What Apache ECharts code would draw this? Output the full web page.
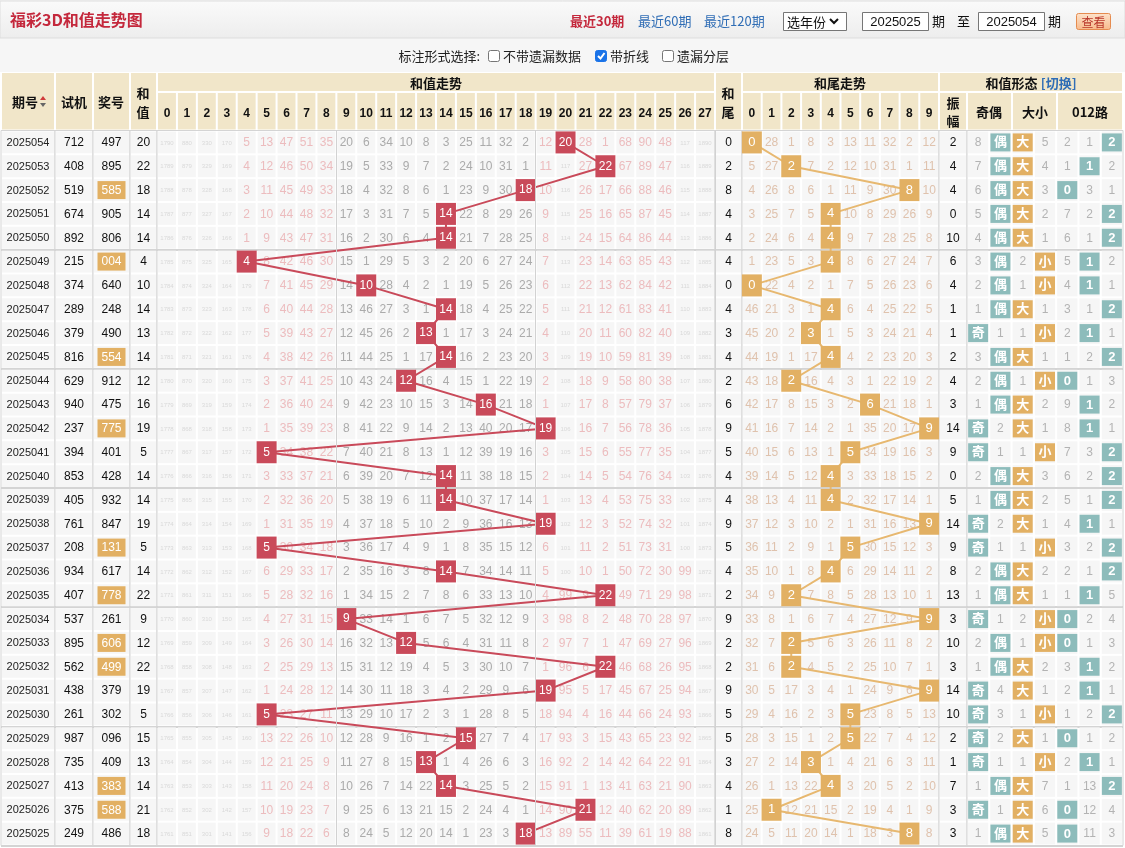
<!DOCTYPE html>
<html>
<head>
<meta charset="utf-8">
<script src="https://cdn.jsdelivr.net/npm/echarts@6/dist/echarts.min.js"></script>
<style>
  html, body { margin: 0; padding: 0; background: #fff; }
  #chart { width: 1125px; height: 848px; }
</style>
</head>
<body>
<div id="chart"></div>
<script>
// ---- data (top row = newest issue) ----
const issues = ['2025054','2025053','2025052','2025051','2025050','2025049','2025048','2025047','2025046','2025045',
  '2025044','2025043','2025042','2025041','2025040','2025039','2025038','2025037','2025036','2025035',
  '2025034','2025033','2025032','2025031','2025030','2025029','2025028','2025027','2025026','2025025'];
const trialNums = ['712','408','519','674','892','215','374','289','379','816','629','940','237','394','853',
  '405','761','208','934','407','537','895','562','438','261','987','735','413','375','249'];
const drawNums = ['497','895','585','905','806','004','640','248','490','554','912','475','775','401','428',
  '932','847','131','617','778','261','606','499','379','302','096','409','383','588','486'];
const pairedDraws = ['585','004','554','775','131','778','606','499','383','588'];
const sumValues = [20,22,18,14,14,4,10,14,13,14,12,16,19,5,14,14,19,5,14,22,9,12,22,19,5,15,13,14,21,18];
const tailValues = [0,2,8,4,4,4,0,4,3,4,2,6,9,5,4,4,9,5,4,2,9,2,2,9,5,5,3,4,1,8];
const spanValues = [2,4,4,0,10,6,4,1,1,2,4,3,14,9,0,5,14,9,8,13,3,10,3,14,10,2,1,7,3,3];

const sumCols = ['0','1','2','3','4','5','6','7','8','9','10','11','12','13','14','15','16','17','18','19','20','21','22','23','24','25','26','27'];
const tailCols = ['0','1','2','3','4','5','6','7','8','9'];
const shapeCols = ['奇','偶','大','小','0','1','2'];

// omission per sum column, '*' = the drawn sum
const sumMissRows = [
  '1790 880 330 170 5 13 47 51 35 20 6 34 10 8 3 25 11 32 2 12 * 28 1 68 90 48 117 1890',
  '1789 879 329 169 4 12 46 50 34 19 5 33 9 7 2 24 10 31 1 11 117 27 * 67 89 47 116 1889',
  '1788 878 328 168 3 11 45 49 33 18 4 32 8 6 1 23 9 30 * 10 116 26 17 66 88 46 115 1888',
  '1787 877 327 167 2 10 44 48 32 17 3 31 7 5 * 22 8 29 26 9 115 25 16 65 87 45 114 1887',
  '1786 876 326 166 1 9 43 47 31 16 2 30 6 4 * 21 7 28 25 8 114 24 15 64 86 44 113 1886',
  '1785 875 325 165 * 8 42 46 30 15 1 29 5 3 2 20 6 27 24 7 113 23 14 63 85 43 112 1885',
  '1784 874 324 164 179 7 41 45 29 14 * 28 4 2 1 19 5 26 23 6 112 22 13 62 84 42 111 1884',
  '1783 873 323 163 178 6 40 44 28 13 46 27 3 1 * 18 4 25 22 5 111 21 12 61 83 41 110 1883',
  '1782 872 322 162 177 5 39 43 27 12 45 26 2 * 1 17 3 24 21 4 110 20 11 60 82 40 109 1882',
  '1781 871 321 161 176 4 38 42 26 11 44 25 1 17 * 16 2 23 20 3 109 19 10 59 81 39 108 1881',
  '1780 870 320 160 175 3 37 41 25 10 43 24 * 16 4 15 1 22 19 2 108 18 9 58 80 38 107 1880',
  '1779 869 319 159 174 2 36 40 24 9 42 23 10 15 3 14 * 21 18 1 107 17 8 57 79 37 106 1879',
  '1778 868 318 158 173 1 35 39 23 8 41 22 9 14 2 13 40 20 17 * 106 16 7 56 78 36 105 1878',
  '1777 867 317 157 172 * 34 38 22 7 40 21 8 13 1 12 39 19 16 3 105 15 6 55 77 35 104 1877',
  '1776 866 316 156 171 3 33 37 21 6 39 20 7 12 * 11 38 18 15 2 104 14 5 54 76 34 103 1876',
  '1775 865 315 155 170 2 32 36 20 5 38 19 6 11 * 10 37 17 14 1 103 13 4 53 75 33 102 1875',
  '1774 864 314 154 169 1 31 35 19 4 37 18 5 10 2 9 36 16 13 * 102 12 3 52 74 32 101 1874',
  '1773 863 313 153 168 * 30 34 18 3 36 17 4 9 1 8 35 15 12 6 101 11 2 51 73 31 100 1873',
  '1772 862 312 152 167 6 29 33 17 2 35 16 3 8 * 7 34 14 11 5 100 10 1 50 72 30 99 1872',
  '1771 861 311 151 166 5 28 32 16 1 34 15 2 7 8 6 33 13 10 4 99 9 * 49 71 29 98 1871',
  '1770 860 310 150 165 4 27 31 15 * 33 14 1 6 7 5 32 12 9 3 98 8 2 48 70 28 97 1870',
  '1769 859 309 149 164 3 26 30 14 16 32 13 * 5 6 4 31 11 8 2 97 7 1 47 69 27 96 1869',
  '1768 858 308 148 163 2 25 29 13 15 31 12 19 4 5 3 30 10 7 1 96 6 * 46 68 26 95 1868',
  '1767 857 307 147 162 1 24 28 12 14 30 11 18 3 4 2 29 9 6 * 95 5 17 45 67 25 94 1867',
  '1766 856 306 146 161 * 23 27 11 13 29 10 17 2 3 1 28 8 5 18 94 4 16 44 66 24 93 1866',
  '1765 855 305 145 160 13 22 26 10 12 28 9 16 1 2 * 27 7 4 17 93 3 15 43 65 23 92 1865',
  '1764 854 304 144 159 12 21 25 9 11 27 8 15 * 1 4 26 6 3 16 92 2 14 42 64 22 91 1864',
  '1763 853 303 143 158 11 20 24 8 10 26 7 14 22 * 3 25 5 2 15 91 1 13 41 63 21 90 1863',
  '1762 852 302 142 157 10 19 23 7 9 25 6 13 21 15 2 24 4 1 14 90 * 12 40 62 20 89 1862',
  '1761 851 301 141 156 9 18 22 6 8 24 5 12 20 14 1 23 3 * 13 89 55 11 39 61 19 88 1861'
];

// omission per tail column
const tailMissRows = [
  '* 28 1 8 3 13 11 32 2 12', '5 27 * 7 2 12 10 31 1 11', '4 26 8 6 1 11 9 30 * 10',
  '3 25 7 5 * 10 8 29 26 9', '2 24 6 4 * 9 7 28 25 8', '1 23 5 3 * 8 6 27 24 7',
  '* 22 4 2 1 7 5 26 23 6', '46 21 3 1 * 6 4 25 22 5', '45 20 2 * 1 5 3 24 21 4',
  '44 19 1 17 * 4 2 23 20 3', '43 18 * 16 4 3 1 22 19 2', '42 17 8 15 3 2 * 21 18 1',
  '41 16 7 14 2 1 35 20 17 *', '40 15 6 13 1 * 34 19 16 3', '39 14 5 12 * 3 33 18 15 2',
  '38 13 4 11 * 2 32 17 14 1', '37 12 3 10 2 1 31 16 13 *', '36 11 2 9 1 * 30 15 12 3',
  '35 10 1 8 * 6 29 14 11 2', '34 9 * 7 8 5 28 13 10 1', '33 8 1 6 7 4 27 12 9 *',
  '32 7 * 5 6 3 26 11 8 2', '31 6 * 4 5 2 25 10 7 1', '30 5 17 3 4 1 24 9 6 *',
  '29 4 16 2 3 * 23 8 5 13', '28 3 15 1 2 * 22 7 4 12', '27 2 14 * 1 4 21 6 3 11',
  '26 1 13 22 * 3 20 5 2 10', '25 * 12 21 15 2 19 4 1 9', '24 5 11 20 14 1 18 3 * 8'
];

// 奇 偶 | 大 小 | 0 1 2 ; badge = 奇/偶/大/小 or [n]
const shapeRows = [
  '8 偶 大 5 2 1 [2]', '7 偶 大 4 1 [1] 2', '6 偶 大 3 [0] 3 1', '5 偶 大 2 7 2 [2]', '4 偶 大 1 6 1 [2]',
  '3 偶 2 小 5 [1] 2', '2 偶 1 小 4 [1] 1', '1 偶 大 1 3 1 [2]', '奇 1 1 小 2 [1] 1', '3 偶 大 1 1 2 [2]',
  '2 偶 1 小 [0] 1 3', '1 偶 大 2 9 [1] 2', '奇 2 大 1 8 [1] 1', '奇 1 1 小 7 3 [2]', '2 偶 大 3 6 2 [2]',
  '1 偶 大 2 5 1 [2]', '奇 2 大 1 4 [1] 1', '奇 1 1 小 3 2 [2]', '2 偶 大 2 2 1 [2]', '1 偶 大 1 1 [1] 5',
  '奇 1 2 小 [0] 2 4', '2 偶 1 小 [0] 1 3', '1 偶 大 2 3 [1] 2', '奇 4 大 1 2 [1] 1', '奇 3 1 小 1 2 [2]',
  '奇 2 大 1 [0] 1 2', '奇 1 1 小 2 [1] 1', '1 偶 大 7 1 13 [2]', '奇 1 大 6 [0] 12 4', '1 偶 大 5 [0] 11 3'
];

// ---- styling ----
const FONT = '"Liberation Sans", "Noto Sans CJK SC", sans-serif';
const CJK = '"Noto Sans CJK SC", sans-serif';
const BEIGE = '#f1e6c9';
const CELL = '#f6f6f6';
const RED = '#c94a5a';
const ORANGE = '#e2b063';
const TEAL = '#8dbcbb';

const TOP = 130.5, BODY_H = 715;

const grids = [
  { left: 1, width: 54, cols: ['期号'] },
  { left: 55, width: 38, cols: ['试机'] },
  { left: 93, width: 37, cols: ['奖号'] },
  { left: 130, width: 27, cols: ['和值'] },
  { left: 157, width: 558, cols: sumCols },
  { left: 715, width: 27, cols: ['和尾'] },
  { left: 742, width: 197, cols: tailCols },
  { left: 939, width: 28, cols: ['振幅'] },
  { left: 967, width: 156, cols: shapeCols }
];

// ---- cells ----
const cellSets = grids.map(() => []);
issues.forEach((v, i) => cellSets[0].push([0, i, v, 'issue']));
trialNums.forEach((v, i) => cellSets[1].push([0, i, v, 'plain']));
drawNums.forEach((v, i) => cellSets[2].push([0, i, v, pairedDraws.includes(v) ? 'pair' : 'plain']));
sumValues.forEach((v, i) => cellSets[3].push([0, i, String(v), 'plain']));
sumMissRows.forEach((row, i) => row.split(' ').forEach((t, c) => {
  if (t === '*') { cellSets[4].push([c, i, '', 'none']); return; }
  const kind = t.length > 2 ? 'tiny' : (c >= 9 && c <= 18 ? 'gray' : 'pink');
  cellSets[4].push([c, i, t, kind]);
}));
tailValues.forEach((v, i) => cellSets[5].push([0, i, String(v), 'plain']));
tailMissRows.forEach((row, i) => row.split(' ').forEach((t, c) => {
  cellSets[6].push([c, i, t === '*' ? '' : t, 'tan']);
}));
spanValues.forEach((v, i) => cellSets[7].push([0, i, String(v), 'plain']));
shapeRows.forEach((row, i) => row.split(' ').forEach((t, c) => {
  if (t === '奇' || t === '偶') cellSets[8].push([c, i, t, 'teal']);
  else if (t === '大' || t === '小') cellSets[8].push([c, i, t, 'orange']);
  else if (t[0] === '[') cellSets[8].push([c, i, t.slice(1, -1), 'teal']);
  else cellSets[8].push([c, i, t, 'muted']);
}));

const textColor = { issue: '#222', plain: '#111', pink: '#ecbcbe', gray: '#ababab', tiny: '#d9d9d9', tan: '#dfc2ad', muted: '#b3b3b3' };

function cellSeries(gi) {
  const cells = cellSets[gi];
  return {
    type: 'custom', xAxisIndex: gi, yAxisIndex: gi, z: 1, silent: true,
    data: cells.map(c => [c[0], c[1]]),
    renderItem(params, api) {
      const cell = cells[params.dataIndex];
      const p = api.coord([api.value(0), api.value(1)]);
      const s = api.size([1, 1]);
      const kids = [{ type: 'rect', shape: { x: p[0] - s[0] / 2 + 1, y: p[1] - s[1] / 2 + 1, width: s[0] - 2, height: s[1] - 2 }, style: { fill: CELL } }];
      const kind = cell[3];
      if (kind === 'none') return { type: 'group', children: kids };
      let fill = textColor[kind] || '#111';
      let font = '12px ' + FONT;
      if (kind === 'tiny') font = '6px ' + FONT;
      if (kind === 'issue') font = '11px ' + FONT;
      if (kind === 'pair') {
        kids.push({ type: 'rect', shape: { x: p[0] - 14, y: p[1] - 9, width: 28, height: 18 }, style: { fill: ORANGE } });
        fill = '#fff';
      }
      if (kind === 'teal' || kind === 'orange') {
        kids.push({ type: 'rect', shape: { x: p[0] - 10, y: p[1] - 9, width: 20, height: 18 }, style: { fill: kind === 'teal' ? TEAL : ORANGE } });
        fill = '#fff';
        font = 'bold 13px ' + FONT;
      }
      kids.push({ type: 'text', style: { x: p[0], y: p[1] + 0.5, text: cell[2], fill, font, align: 'center', verticalAlign: 'middle' } });
      return { type: 'group', children: kids };
    }
  };
}

// ---- axes ----
const xAxes = grids.map((g, gi) => ({
  gridIndex: gi, type: 'category', data: g.cols, position: 'top', z: 10,
  axisLine: { show: false }, axisTick: { show: false },
  axisLabel: {
    show: gi === 4 || gi === 6, interval: 0, margin: 11,
    color: '#111', fontWeight: 'bold', fontSize: 12, fontFamily: FONT
  },
  splitLine: {
    show: gi === 4, interval: (i) => i === 9 || i === 19,
    lineStyle: { color: '#d2d2d2', width: 1 }
  }
}));
const yAxes = grids.map((g, gi) => ({
  gridIndex: gi, type: 'category', data: issues, inverse: true,
  axisLine: { show: false }, axisTick: { show: false }, axisLabel: { show: false },
  splitLine: { show: true, interval: (i) => i > 0 && i % 5 === 0, lineStyle: { color: '#d4d4d4', width: 2 } }
}));

// ---- header / top bar graphics ----
const graphics = [];
function hcell(x0, x1, y0, y1) {
  graphics.push({ type: 'rect', z: -5, shape: { x: x0 + 1, y: y0 + 1, width: x1 - x0 - 2, height: y1 - y0 - 2 }, style: { fill: BEIGE } });
}
function htext(x, y, text, extra) {
  graphics.push({ type: 'text', z: 5, style: Object.assign({ x, y, text, fill: '#111', font: 'bold 13px ' + CJK, align: 'center', verticalAlign: 'middle' }, extra || {}) });
}
const HA = 72, HB = 92, HC = 130.5;
// spanning cells
[[1, 55], [55, 93], [93, 130], [130, 157], [715, 742]].forEach(([a, b]) => hcell(a, b, HA, HC));
hcell(157, 715, HA, HB); hcell(742, 939, HA, HB); hcell(939, 1123, HA, HB);
sumCols.forEach((c, i) => hcell(157 + i * 558 / 28, 157 + (i + 1) * 558 / 28, HB, HC));
tailCols.forEach((c, i) => hcell(742 + i * 19.7, 742 + (i + 1) * 19.7, HB, HC));
[[939, 967], [967, 1012], [1012, 1057], [1057, 1123]].forEach(([a, b]) => hcell(a, b, HB, HC));

htext(25, 102, '期号');
graphics.push({ type: 'polygon', z: 5, shape: { points: [[40, 100], [46, 100], [43, 96]] }, style: { fill: '#d03b3b' } });
graphics.push({ type: 'polygon', z: 5, shape: { points: [[40, 103], [46, 103], [43, 107]] }, style: { fill: '#666' } });
htext(74, 102, '试机');
htext(111, 102, '奖号');
htext(143, 93, '和'); htext(143, 112, '值');
htext(728, 93, '和'); htext(728, 112, '尾');
htext(436, 83, '和值走势');
htext(840, 83, '和尾走势');
graphics.push({ type: 'text', z: 5, style: { x: 1031, y: 83, text: '{a|和值形态} {b|[切换]}', align: 'center', verticalAlign: 'middle',
  rich: { a: { font: 'bold 13px ' + CJK, fill: '#111' }, b: { font: 'bold 13px ' + CJK, fill: '#2f6db5' } } } });
htext(953, 103, '振'); htext(953, 121, '幅');
htext(989, 112, '奇偶');
htext(1035, 112, '大小');
htext(1090, 112, '012路');

// title bar
graphics.push({ type: 'rect', z: -10, shape: { x: 0, y: 0, width: 1125, height: 72 }, style: { fill: '#f6f6f6' } });
graphics.push({ type: 'rect', z: -9, shape: { x: 0, y: 1, width: 1125, height: 37 },
  style: { fill: { type: 'linear', x: 0, y: 0, x2: 0, y2: 1, colorStops: [{ offset: 0, color: '#fafafa' }, { offset: 1, color: '#ededed' }] }, stroke: '#dddddd', lineWidth: 1 } });
graphics.push({ type: 'text', z: 5, style: { x: 10, y: 20, text: '福彩3D和值走势图', fill: '#c4283c', font: 'bold 16px ' + CJK, verticalAlign: 'middle' } });
const topFont = '13px ' + CJK;
graphics.push({ type: 'text', z: 5, style: { x: 570, y: 21, text: '最近30期', fill: '#c4283c', font: 'bold 13px ' + CJK, verticalAlign: 'middle' } });
graphics.push({ type: 'text', z: 5, style: { x: 638, y: 21, text: '最近60期', fill: '#2f6db5', font: topFont, verticalAlign: 'middle' } });
graphics.push({ type: 'text', z: 5, style: { x: 704, y: 21, text: '最近120期', fill: '#2f6db5', font: topFont, verticalAlign: 'middle' } });
// select
graphics.push({ type: 'rect', z: 5, shape: { x: 783.5, y: 12.5, width: 63, height: 18 }, style: { fill: '#fff', stroke: '#767676', lineWidth: 1 } });
graphics.push({ type: 'text', z: 6, style: { x: 787, y: 22, text: '选年份', fill: '#111', font: topFont, verticalAlign: 'middle' } });
graphics.push({ type: 'polyline', z: 6, shape: { points: [[830, 19], [834, 23], [838, 19]] }, style: { stroke: '#111', lineWidth: 2, fill: null } });
// inputs
[[862.5, '2025025'], [978.5, '2025054']].forEach(([x, t]) => {
  graphics.push({ type: 'rect', z: 5, shape: { x, y: 12.5, width: 66, height: 18 }, style: { fill: '#fff', stroke: '#767676', lineWidth: 1 } });
  graphics.push({ type: 'text', z: 6, style: { x: x + 33, y: 22, text: t, fill: '#111', font: '13px ' + FONT, align: 'center', verticalAlign: 'middle' } });
});
graphics.push({ type: 'text', z: 5, style: { x: 932, y: 21, text: '期', fill: '#111', font: topFont, verticalAlign: 'middle' } });
graphics.push({ type: 'text', z: 5, style: { x: 957, y: 21, text: '至', fill: '#111', font: topFont, verticalAlign: 'middle' } });
graphics.push({ type: 'text', z: 5, style: { x: 1048, y: 21, text: '期', fill: '#111', font: topFont, verticalAlign: 'middle' } });
// button
graphics.push({ type: 'rect', z: 5, shape: { x: 1076.5, y: 13.5, width: 34, height: 16, r: 2 },
  style: { fill: { type: 'linear', x: 0, y: 0, x2: 0, y2: 1, colorStops: [{ offset: 0, color: '#fde3cc' }, { offset: 1, color: '#f7b98a' }] }, stroke: '#e58b4f', lineWidth: 1 } });
graphics.push({ type: 'text', z: 6, style: { x: 1093.5, y: 22, text: '查看', fill: '#b8362a', font: '12px ' + CJK, align: 'center', verticalAlign: 'middle' } });

// option row
graphics.push({ type: 'text', z: 5, style: { x: 480, y: 56, text: '标注形式选择:', fill: '#222', font: topFont, align: 'right', verticalAlign: 'middle' } });
[[488, false, '不带遗漏数据'], [595, true, '带折线'], [662, false, '遗漏分层']].forEach(([x, on, t]) => {
  graphics.push({ type: 'rect', z: 5, shape: { x: x + 0.5, y: 50.5, width: 11, height: 11, r: 2 },
    style: on ? { fill: '#1a73e8', stroke: '#1a73e8' } : { fill: '#fff', stroke: '#767676', lineWidth: 1 } });
  if (on) graphics.push({ type: 'polyline', z: 6, shape: { points: [[x + 3, 56], [x + 5.5, 58.5], [x + 9.5, 53]] }, style: { stroke: '#fff', lineWidth: 2, fill: null } });
  graphics.push({ type: 'text', z: 5, style: { x: x + 15, y: 56, text: t, fill: '#222', font: topFont, verticalAlign: 'middle' } });
});

// ---- series ----
const series = grids.map((g, gi) => cellSeries(gi));
series.push({
  type: 'line', xAxisIndex: 4, yAxisIndex: 4, z: 2, silent: true, symbol: 'none',
  data: sumValues.map((v, i) => [v, i]), lineStyle: { color: RED, width: 2 }
});
series.push({
  type: 'scatter', xAxisIndex: 4, yAxisIndex: 4, z: 3, silent: true, symbol: 'rect', symbolSize: [20, 22],
  data: sumValues.map((v, i) => [v, i]), itemStyle: { color: RED, opacity: 1 },
  label: { show: true, position: 'inside', formatter: (p) => String(sumValues[p.dataIndex]), color: '#fff', fontSize: 12, fontFamily: FONT }
});
series.push({
  type: 'line', xAxisIndex: 6, yAxisIndex: 6, z: 2, silent: true, symbol: 'none',
  data: tailValues.map((v, i) => [v, i]), lineStyle: { color: '#e7b870', width: 2 }
});
series.push({
  type: 'scatter', xAxisIndex: 6, yAxisIndex: 6, z: 3, silent: true, symbol: 'rect', symbolSize: [20, 22],
  data: tailValues.map((v, i) => [v, i]), itemStyle: { color: ORANGE, opacity: 1 },
  label: { show: true, position: 'inside', formatter: (p) => String(tailValues[p.dataIndex]), color: '#fff', fontSize: 13, fontFamily: FONT }
});

const chart = echarts.init(document.getElementById('chart'));
chart.setOption({
  animation: false,
  backgroundColor: '#ffffff',
  grid: grids.map(g => ({ left: g.left, width: g.width, top: TOP, height: BODY_H, show: true, borderColor: '#d4d4d4', borderWidth: 1, backgroundColor: '#fff' })),
  xAxis: xAxes,
  yAxis: yAxes,
  graphic: { elements: graphics },
  series
});
</script>
</body>
</html>
